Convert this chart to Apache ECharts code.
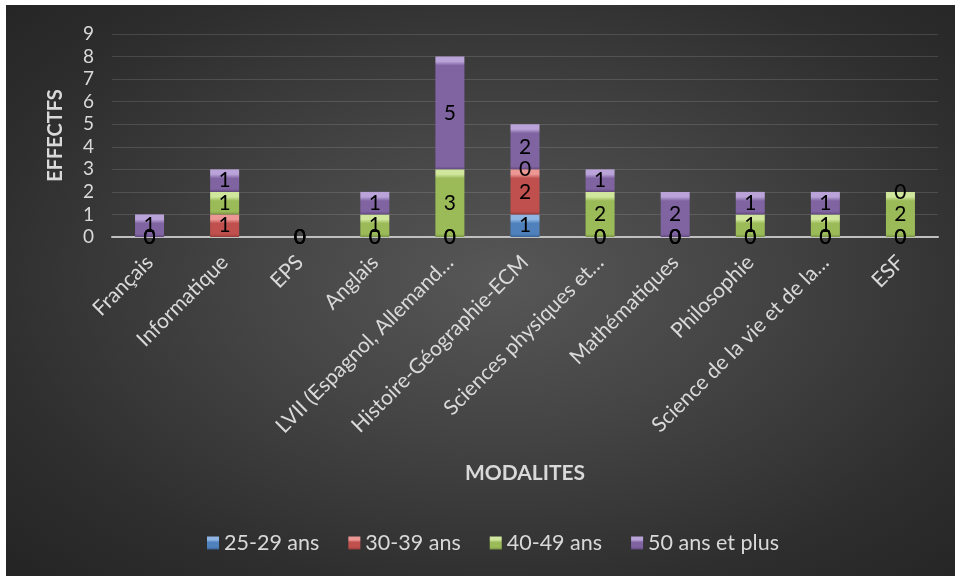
<!DOCTYPE html>
<html>
<head>
<meta charset="utf-8">
<script src="https://cdn.jsdelivr.net/npm/echarts@6/dist/echarts.min.js"></script>
<style>
  html, body { margin: 0; padding: 0; background: #ffffff; }
  #chart {
    position: absolute; left: 6px; top: 5px; width: 949px; height: 571px;
    background: radial-gradient(ellipse farthest-corner at 52% 48%, #575757 0%, #454545 35%, #2e2e2e 75%, #242424 100%);
  }
</style>
</head>
<body>
<div id="chart"></div>
<script>
// Effectifs par discipline et par tranche d'âge
const categories = [
  'Français', 'Informatique', 'EPS', 'Anglais', 'LVII (Espagnol, Allemand…',
  'Histoire-Géographie-ECM', 'Sciences physiques et…', 'Mathématiques',
  'Philosophie', 'Science de la vie et de la…', 'ESF'
];
const seriesNames = ['25-29 ans', '30-39 ans', '40-49 ans', '50 ans et plus'];
const age25_29 = [0, null, 0, 0, 0, 1, 0, 0, 0, 0, 0];
const age30_39 = [0, 1, 0, 0, 0, 2, 0, 0, 0, 0, 0];
const age40_49 = [0, 1, 0, 1, 3, 0, 2, 0, 1, 1, 2];
const age50plus = [1, 1, 0, 1, 5, 2, 1, 2, 1, 1, 0];
const yTicks = [0, 1, 2, 3, 4, 5, 6, 7, 8, 9];

const FONT = 'Lato, "Open Sans", sans-serif';
const values = [age25_29, age30_39, age40_49, age50plus];
// base, light (bevel top), dark (bevel bottom)
const palette = [
  ['#4f81bd', '#8fb5e4', '#3a6396'],
  ['#c0504d', '#ec9794', '#963c3a'],
  ['#9bbb59', '#cfe69c', '#7a9644'],
  ['#8064a2', '#b9a3d8', '#62497f']
];
const unitPx = 22.6;
const bevelPx = 9;

function bevelFill(v, c) {
  const h = Math.max(v * unitPx, 1);
  const t = Math.min(0.45, bevelPx / h);
  const b = Math.min(0.2, 3 / h);
  return new echarts.graphic.LinearGradient(0, 0, 0, 1, [
    { offset: 0, color: c[1] },
    { offset: t * 0.55, color: c[1] },
    { offset: t, color: c[0] },
    { offset: 1 - b, color: c[0] },
    { offset: 1, color: c[2] }
  ]);
}

const series = seriesNames.map((name, i) => ({
  name: name,
  type: 'bar',
  stack: 'total',
  barWidth: 29,
  data: values[i].map(v => v === null ? null : {
    value: v,
    itemStyle: { color: bevelFill(v, palette[i]) }
  }),
  itemStyle: { color: palette[i][0] },
  label: {
    show: true,
    position: 'inside',
    color: '#000000',
    fontFamily: FONT,
    fontSize: 21
  }
}));

const chart = echarts.init(document.getElementById('chart'), null, { renderer: 'canvas' });
chart.setOption({
  backgroundColor: 'transparent',
  animation: false,
  grid: { left: 106, right: 17, top: 29, bottom: 339 },
  legend: {
    data: seriesNames.map((n, i) => ({ name: n, itemStyle: { color: bevelFill(0.5, palette[i]) } })),
    top: 522,
    left: 196,
    itemWidth: 12,
    itemHeight: 13,
    itemGap: 29,
    icon: 'rect',
    textStyle: { color: '#d9d9d9', fontFamily: FONT, fontSize: 21.5 }
  },
  xAxis: {
    type: 'category',
    data: categories,
    name: 'MODALITES',
    nameLocation: 'middle',
    nameGap: 226,
    nameTextStyle: { color: '#d9d9d9', fontFamily: FONT, fontSize: 21, fontWeight: 'bold' },
    axisLine: { show: true, lineStyle: { color: '#bfbfbf', width: 2 } },
    axisTick: { show: false },
    axisLabel: {
      rotate: 45,
      interval: 0,
      margin: 22,
      color: '#d9d9d9',
      fontFamily: FONT,
      fontSize: 21
    }
  },
  yAxis: {
    type: 'value',
    min: yTicks[0],
    max: yTicks[yTicks.length - 1],
    interval: 1,
    name: 'EFFECTFS',
    nameLocation: 'middle',
    nameGap: 46,
    nameRotate: 90,
    nameTextStyle: { color: '#d9d9d9', fontFamily: FONT, fontSize: 20, fontWeight: 'bold' },
    axisLine: { show: false },
    axisTick: { show: false },
    axisLabel: { color: '#d9d9d9', fontFamily: FONT, fontSize: 19, margin: 18 },
    splitLine: { lineStyle: { color: 'rgba(255,255,255,0.13)', width: 1 } }
  },
  series: series
});
</script>
</body>
</html>
